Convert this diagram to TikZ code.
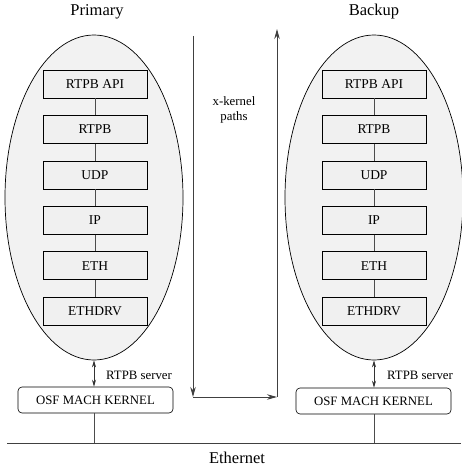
\documentclass[tikz,border=0pt]{standalone}
\usepackage{fontspec}
\setmainfont{Liberation Serif}[Ligatures=TeX]
\usetikzlibrary{shapes.geometric,arrows.meta}
\tikzset{
  host/.style={draw=black, line width=0.7pt, fill=black!5, ellipse, inner sep=0pt,
    minimum width=178pt, minimum height=325pt},
  layer/.style={draw=black, line width=0.6pt, fill=black!6, rectangle, inner sep=0pt,
    minimum width=104pt, minimum height=28pt, font=\rmfamily\fontsize{13.5}{15}\selectfont},
  kernel/.style={draw=black, line width=0.6pt, fill=white, rectangle, rounded corners=4pt,
    inner sep=0pt, minimum width=155pt, minimum height=26pt, font=\rmfamily\fontsize{12.8}{14}\selectfont},
  link/.style={draw=black!70, line width=0.7pt},
  title/.style={font=\rmfamily\fontsize{16.5}{18}\selectfont, inner sep=0pt},
  small/.style={font=\rmfamily\fontsize{12.8}{15.5}\selectfont, inner sep=0pt, align=center},
  path/.style={draw=black!75, line width=0.8pt, -{Stealth[length=10pt,width=5.5pt]}},
  dbl/.style={draw=black!80, line width=0.7pt, {Stealth[length=7pt,width=4pt]}-{Stealth[length=7pt,width=4pt]}}
}
\begin{document}
\begin{tikzpicture}[x=1pt, y=-1pt]
  \useasboundingbox (0,0) rectangle (461,468);

  % hosts
  \node[host] (pe) at (94,197.5) {};
  \node[host] (be) at (374,197.5) {};
  \node[title] (pt) at (97,12) {Primary};
  \node[title] (bt) at (374,12) {Backup};

  % protocol stacks
  \foreach \s/\x in {p/95, b/374} {
    \node[layer] (\s1) at (\x,84) {RTPB API};
    \node[layer] (\s2) at (\x,129.4) {RTPB};
    \node[layer] (\s3) at (\x,174.8) {UDP};
    \node[layer] (\s4) at (\x,220.2) {IP};
    \node[layer] (\s5) at (\x,265.6) {ETH};
    \node[layer] (\s6) at (\x,311) {ETHDRV};
    \draw[link] (\s1) -- (\s2);
    \draw[link] (\s2) -- (\s3);
    \draw[link] (\s3) -- (\s4);
    \draw[link] (\s4) -- (\s5);
    \draw[link] (\s5) -- (\s6);
  }

  % kernels
  \node[kernel] (pk) at (95.5,400) {OSF MACH KERNEL};
  \node[kernel] (bk) at (373.5,401) {OSF MACH KERNEL};
  \draw[dbl] (pe.south) -- (pk.north -| pe.south);
  \draw[dbl] (be.south) -- (bk.north -| be.south);
  \node[small, anchor=west] (ps) at (106,375) {RTPB server};
  \node[small, anchor=west] (bs) at (387,375) {RTPB server};

  % ethernet
  \coordinate (el) at (7,443);
  \coordinate (er) at (461,443);
  \draw[link, draw=black!75] (el) -- (er);
  \draw[link] (pk.south -| pe.south) -- (pe.south |- el);
  \draw[link] (bk.south -| be.south) -- (be.south |- el);
  \node[title] (eth) at (237,458) {Ethernet};

  % x-kernel paths
  \coordinate (a1) at (193,36);
  \coordinate (a2) at (193,397);
  \coordinate (a3) at (277,397);
  \coordinate (a4) at (277,29);
  \draw[path] (a1) -- (a2);
  \draw[path] (a2) -- (a3);
  \draw[path] (a3) -- (a4);
  \node[small] (xk) at (234,110) {x-kernel\\paths};
\end{tikzpicture}
\end{document}
